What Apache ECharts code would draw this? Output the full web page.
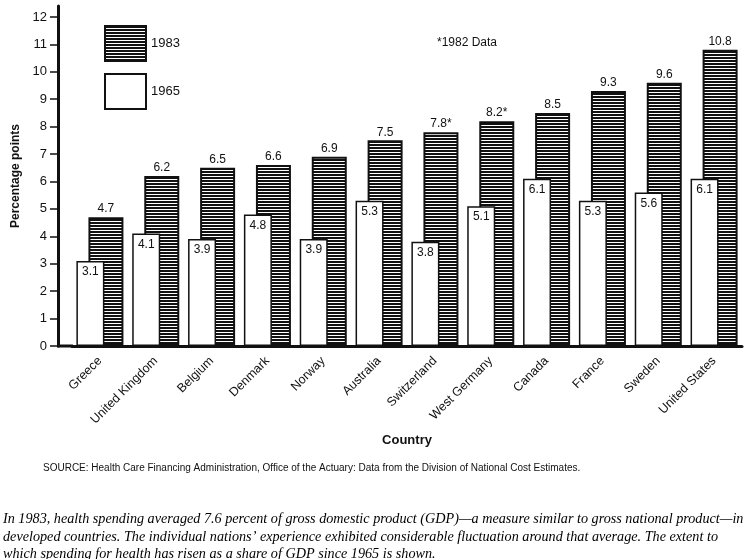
<!DOCTYPE html>
<html>
<head>
<meta charset="utf-8">
<script src="https://cdn.jsdelivr.net/npm/echarts@6/dist/echarts.min.js"></script>
<style>
  html, body { margin: 0; padding: 0; background: #fff; }
  #chart { width: 751px; height: 559px; }
</style>
</head>
<body>
<div id="chart"></div>
<script>
// data
const countries = ['Greece', 'United Kingdom', 'Belgium', 'Denmark', 'Norway', 'Australia',
  'Switzerland', 'West Germany', 'Canada', 'France', 'Sweden', 'United States']
const values1965 = [3.1, 4.1, 3.9, 4.8, 3.9, 5.3, 3.8, 5.1, 6.1, 5.3, 5.6, 6.1]
const values1983 = [4.7, 6.2, 6.5, 6.6, 6.9, 7.5, 7.8, 8.2, 8.5, 9.3, 9.6, 10.8]
// '*' = 1982 data
const notes1983 = ['', '', '', '', '', '', '*', '*', '', '', '', '']
const yTicks = [0, 1, 2, 3, 4, 5, 6, 7, 8, 9, 10, 11, 12]

const ink = '#111'

// horizontal stripe fill for the 1983 bars
function stripes () {
  const c = document.createElement('canvas')
  c.width = 4
  c.height = 3
  const ctx = c.getContext('2d')
  ctx.fillStyle = '#fff'
  ctx.fillRect(0, 0, 4, 3)
  ctx.fillStyle = ink
  ctx.fillRect(0, 0, 4, 2)
  return c
}

const chart = echarts.init(document.getElementById('chart'), null, { renderer: 'canvas' })

chart.setOption({
  animation: false,
  backgroundColor: '#fff',
  textStyle: { fontFamily: 'Liberation Sans, Arial, sans-serif', color: ink },
  title: [
    {
      text: '*1982 Data',
      left: 432, top: 32,
      textStyle: { fontSize: 12, fontWeight: 'normal', color: ink }
    },
    {
      text: 'SOURCE: Health Care Financing Administration, Office of the Actuary: Data from the Division of National Cost Estimates.',
      left: 38, top: 458,
      textStyle: { fontSize: 10, fontWeight: 'normal', color: ink, fontFamily: 'Liberation Sans Narrow, Liberation Sans, sans-serif' }
    },
    {
      text: 'In 1983, health spending averaged 7.6 percent of gross domestic product (GDP)—a measure similar to gross national product—in\n' +
        'developed countries. The individual nations\u2019 experience exhibited considerable fluctuation around that average. The extent to\n' +
        'which spending for health has risen as a share of GDP since 1965 is shown.',
      left: -2, top: 506,
      textStyle: {
        fontSize: 14.2, fontWeight: 'normal', fontStyle: 'italic', lineHeight: 17.5,
        color: '#000', fontFamily: 'Liberation Serif, Times New Roman, serif'
      }
    }
  ],
  legend: {
    data: ['1983', '1965'],
    orient: 'vertical',
    left: 99, top: 20,
    icon: 'rect',
    itemWidth: 41, itemHeight: 35, itemGap: 11,
    textStyle: { fontSize: 13, color: ink }
  },
  grid: { left: 72, right: 9, top: 6, bottom: 213 },
  xAxis: {
    type: 'category',
    data: countries,
    name: 'Country',
    nameLocation: 'middle',
    nameGap: 87,
    nameTextStyle: { fontSize: 13, fontWeight: 'bold', color: ink },
    axisLine: { lineStyle: { color: ink, width: 3 } },
    axisTick: { show: false },
    axisLabel: { rotate: 45, fontSize: 12.5, margin: 13, color: ink, interval: 0 }
  },
  yAxis: {
    type: 'value',
    min: 0, max: 12.4, interval: 1,
    offset: 14,
    name: 'Percentage points',
    nameLocation: 'middle',
    nameGap: 20,
    nameTextStyle: { fontSize: 12, fontWeight: 'bold', color: ink },
    splitLine: { show: false },
    axisLine: { show: true, lineStyle: { color: ink, width: 3 } },
    axisTick: { show: true, length: 8, lineStyle: { color: ink, width: 1.5 }, customValues: yTicks },
    axisLabel: { fontSize: 13, margin: 11, color: ink, customValues: yTicks }
  },
  series: [
    {
      name: '1965',
      type: 'bar',
      data: values1965,
      barWidth: 28,
      barGap: '-57%',
      z: 3,
      itemStyle: { color: '#fff', borderColor: ink, borderWidth: 1.5 },
      label: {
        show: true, position: 'insideTop', distance: 5,
        fontSize: 12, color: ink
      }
    },
    {
      name: '1983',
      type: 'bar',
      data: values1983,
      barWidth: 35,
      barGap: '-57%',
      z: 2,
      itemStyle: { color: { image: stripes(), repeat: 'repeat' }, borderColor: ink, borderWidth: 2 },
      label: {
        show: true, position: 'top', distance: 2,
        fontSize: 12, color: ink,
        formatter: p => p.value + notes1983[p.dataIndex]
      }
    }
  ],
  graphic: [
    // baseline continues left to the y axis
    { type: 'line', shape: { x1: 57, y1: 346, x2: 73, y2: 346 }, style: { stroke: ink, lineWidth: 3 } }
  ]
})
</script>
</body>
</html>
